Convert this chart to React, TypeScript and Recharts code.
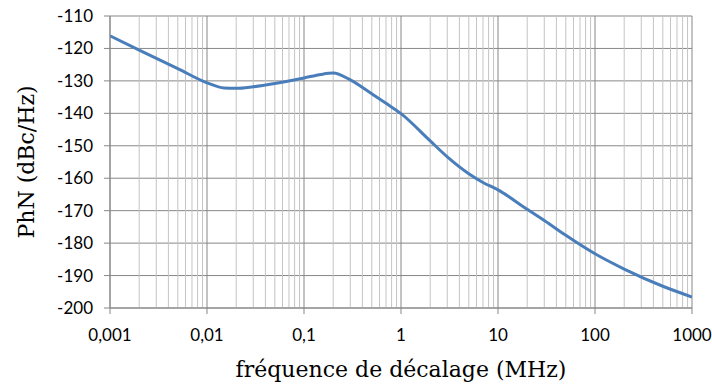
import {
  LineChart,
  Line,
  XAxis,
  YAxis,
  CartesianGrid,
  ReferenceLine,
} from 'recharts'

// offset frequency (MHz), log scale
const freqs = [
  0.001, 0.002, 0.005, 0.01, 0.015, 0.02, 0.03, 0.05, 0.1, 0.15, 0.2, 0.3, 0.5,
  0.7, 1, 2, 3, 5, 7, 10, 20, 30, 50, 100, 200, 500, 1000,
]
// phase noise (dBc/Hz)
const phn = [
  -116.1, -120.5, -126.2, -130.6, -132.2, -132.3, -131.8, -130.8, -129.1,
  -128.0, -127.6, -129.7, -134.0, -136.9, -140.1, -148.5, -153.4, -158.6,
  -161.3, -163.6, -169.6, -173.0, -177.6, -183.3, -188.0, -193.3, -196.6,
]

const xTicks = [0.001, 0.01, 0.1, 1, 10, 100, 1000]
const yTicks = [-200, -190, -180, -170, -160, -150, -140, -130, -120, -110]
const minorSteps = [2, 3, 4, 5, 6, 7, 8, 9]

const data = freqs.map((f, i) => ({ f, phn: phn[i] }))
const minorLines = xTicks
  .slice(0, -1)
  .flatMap((d) => minorSteps.map((k) => +(k * d).toPrecision(3)))

const MAJOR = '#878787'
const MINOR = '#c4c4c4'
const tickStyle = { fill: '#000', fontSize: 17, fontFamily: 'Lato' }
const titleStyle = { fill: '#000', fontSize: 22, fontFamily: 'DejaVu Serif' }

export default function App() {
  return (
    <div style={{ position: 'absolute', top: 0, left: 0, background: '#fff' }}>
      <LineChart
        width={712}
        height={386}
        data={data}
        margin={{ top: 16, right: 20, bottom: 0, left: 0 }}
      >
        {minorLines.map((v) => (
          <ReferenceLine key={v} x={v} stroke={MINOR} strokeWidth={1} />
        ))}
        <CartesianGrid stroke={MAJOR} strokeWidth={1} />
        <XAxis
          dataKey="f"
          type="number"
          scale="log"
          domain={[0.001, 1000]}
          ticks={xTicks}
          allowDataOverflow
          height={78}
          tickSize={6}
          tickMargin={15}
          stroke={MAJOR}
          tick={tickStyle}
          tickFormatter={(v: number) => String(v).replace('.', ',')}
          label={{
            value: 'fréquence de décalage (MHz)',
            position: 'insideBottom',
            offset: 9,
            style: titleStyle,
          }}
        />
        <YAxis
          type="number"
          domain={[-200, -110]}
          ticks={yTicks}
          width={110}
          tickSize={6}
          tickMargin={11}
          stroke={MAJOR}
          tick={tickStyle}
          label={{
            value: 'PhN (dBc/Hz)',
            angle: -90,
            position: 'insideLeft',
            offset: 26,
            style: { ...titleStyle, textAnchor: 'middle' },
          }}
        />
        <Line
          type="monotone"
          dataKey="phn"
          stroke="#4a7ebb"
          strokeWidth={3}
          dot={false}
          isAnimationActive={false}
        />
      </LineChart>
    </div>
  )
}
